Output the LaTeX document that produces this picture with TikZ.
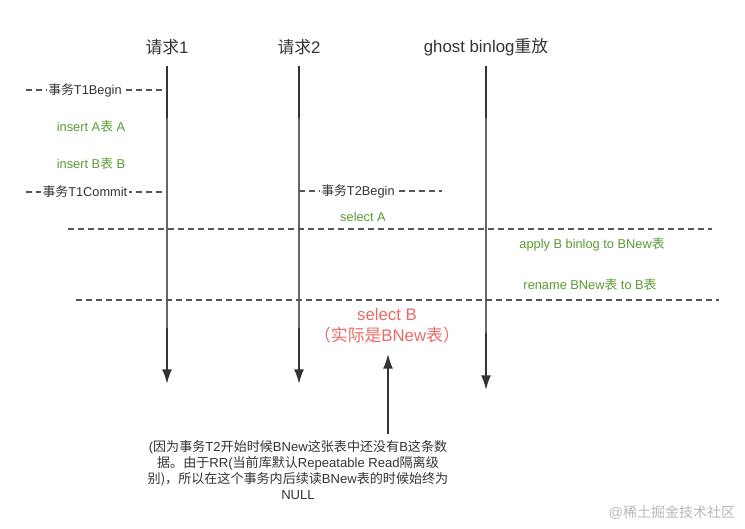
\documentclass[tikz,border=0pt]{standalone}
\usepackage{fontspec}
\setmainfont{Liberation Sans}
\newfontfamily\cjk{Noto Sans CJK SC}
\newcommand{\zh}[1]{{\cjk #1}}
\usetikzlibrary{arrows.meta}
\definecolor{lblgreen}{HTML}{5A9A32}
\definecolor{lblred}{HTML}{EA6B66}
\definecolor{linegray}{HTML}{666666}
\definecolor{darkgray}{HTML}{333333}
\definecolor{dashgray}{HTML}{555555}

\begin{document}
\begin{tikzpicture}[x=0.75pt, y=-0.75pt,
    head/.style={font=\fontsize{12.6}{15}\selectfont, text=darkgray, inner sep=0pt},
    lbl/.style={font=\fontsize{9.6}{12}\selectfont, text=darkgray, fill=white, inner sep=1pt},
    stmt/.style={font=\fontsize{9.6}{12}\selectfont, text=lblgreen, inner sep=0pt},
    lifeline/.style={linegray, line width=1.5pt},
    lifeend/.style={darkgray, line width=1.5pt, -{Latex[length=11pt, width=7.5pt]}},
    boundary/.style={dashgray, line width=1.1pt, dash pattern=on 4.5pt off 3pt}]
    \useasboundingbox (0,0) rectangle (745,528);

    % 1. Tiêu đề ba luồng
    \node[head] (req1) at (167,47) {\zh{请求}1};
    \node[head] (req2) at (299,47) {\zh{请求}2};
    \node[head] (ghost) at (486,47) {ghost binlog\zh{重放}};

    % 2. Ba đường đời (có mũi tên ở cuối)
    \coordinate (top1) at (167,66);  \coordinate (mid1) at (167,118);
    \coordinate (low1) at (167,328); \coordinate (bot1) at (167,384);
    \coordinate (top2) at (299,66);  \coordinate (mid2) at (299,118);
    \coordinate (low2) at (299,328); \coordinate (bot2) at (299,384);
    \coordinate (top3) at (486,66);  \coordinate (mid3) at (486,118);
    \coordinate (low3) at (486,333); \coordinate (bot3) at (486,390);
    \draw[darkgray, line width=1.5pt] (top1) -- (mid1);
    \draw[darkgray, line width=1.5pt] (top2) -- (mid2);
    \draw[darkgray, line width=1.5pt] (top3) -- (mid3);
    \draw[lifeline] (mid1) -- (low1);
    \draw[lifeline] (mid2) -- (low2);
    \draw[lifeline] (mid3) -- (low3);
    \draw[lifeend] (low1) -- (bot1);
    \draw[lifeend] (low2) -- (bot2);
    \draw[lifeend] (low3) -- (bot3);

    % 3. Giao dịch T1 trên luồng 1
    \coordinate (t1b) at (26,90);
    \draw[boundary] (t1b) -- (167,90);
    \node[lbl] (t1begin) at (85,90) {\zh{事务}T1Begin};
    \node[stmt] (insA) at (91,127) {insert A\zh{表} A};
    \node[stmt] (insB) at (91,164) {insert B\zh{表} B};
    \coordinate (t1c) at (26,192);
    \draw[boundary] (t1c) -- (167,192);
    \node[lbl] (t1commit) at (85,192) {\zh{事务}T1Commit};

    % 4. Giao dịch T2 trên luồng 2
    \coordinate (t2b) at (442,191);
    \draw[boundary] (299,191) -- (t2b);
    \node[lbl] (t2begin) at (358,191) {\zh{事务}T2Begin};
    \node[stmt] (selA) at (363,217) {select A};

    % 5. Hai đường phân cách và thao tác ghost
    \coordinate (cut1l) at (68,229);  \coordinate (cut1r) at (712,229);
    \draw[boundary] (cut1l) -- (cut1r);
    \node[stmt] (apply) at (592,244) {apply B binlog to BNew\zh{表}};
    \node[stmt] (rename) at (590,285) {rename BNew\zh{表} to B\zh{表}};
    \coordinate (cut2l) at (76,300);  \coordinate (cut2r) at (719,300);
    \draw[boundary] (cut2l) -- (cut2r);

    % 6. select B và ghi chú
    \node[font=\fontsize{12.6}{15}\selectfont, text=lblred, inner sep=0pt] (selB) at (387,314) {select B};
    \node[font=\fontsize{12.6}{15}\selectfont, text=lblred, inner sep=0pt] (selBnew) at (387,335) {\zh{（实际是}BNew\zh{表）}};
    \node[font=\fontsize{9.8}{12}\selectfont, text=darkgray, align=center, inner sep=0pt, anchor=north] (note) at (298,440)
        {(\zh{因为事务}T2\zh{开始时候}BNew\zh{这张表中还没有}B\zh{这条数}\\
         \zh{据。由于}RR(\zh{当前库默认}Repeatable Read\zh{隔离级}\\
         \zh{别)，所以在这个事务内后续读}BNew\zh{表的时候始终为}\\
         NULL};
    \coordinate (up0) at (388,434);
    \draw[darkgray, line width=1.2pt, -{Latex[length=11pt, width=7.5pt]}] (up0) -- (388,354);

    % 7. Dấu bản quyền mờ
    \node[font=\fontsize{10.5}{12}\selectfont, text=black!28, inner sep=0pt] (mark) at (672,513) {@\zh{稀土掘金技术社区}};
\end{tikzpicture}
\end{document}
